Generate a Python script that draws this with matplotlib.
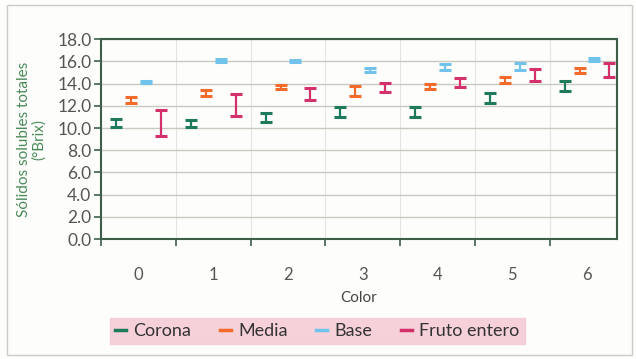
import matplotlib
matplotlib.use("Agg")
import matplotlib.pyplot as plt
import numpy as np
from matplotlib.lines import Line2D
from matplotlib.patches import Rectangle

plt.rcParams["font.family"] = ["Lato", "DejaVu Sans"]

# Sólidos solubles totales (°Brix) por grado de color y zona del fruto
colores = ["0", "1", "2", "3", "4", "5", "6"]
series = ["Corona", "Media", "Base", "Fruto entero"]

corona = [10.45, 10.40, 10.93, 11.42, 11.42, 12.68, 13.78]
corona_err = [0.40, 0.33, 0.40, 0.46, 0.46, 0.47, 0.47]
media = [12.50, 13.17, 13.70, 13.35, 13.75, 14.30, 15.17]
media_err = [0.28, 0.28, 0.15, 0.43, 0.20, 0.25, 0.23]
base = [14.15, 16.10, 16.00, 15.20, 15.48, 15.53, 16.15]
base_err = [0.12, 0.15, 0.10, 0.18, 0.28, 0.28, 0.15]
fruto = [10.45, 12.05, 13.05, 13.62, 14.06, 14.80, 15.20]
fruto_err = [1.18, 0.97, 0.53, 0.42, 0.40, 0.55, 0.65]

valores = [corona, media, base, fruto]
errores = [corona_err, media_err, base_err, fruto_err]
tonos = ["#1f7a5c", "#f26b2a", "#72c3ec", "#d3306c"]
desplaz = [-0.3, -0.1, 0.1, 0.3]

fig = plt.figure(figsize=(6.36, 3.59), dpi=100, facecolor="#fdfdfb")
ax = fig.add_axes([0.159, 0.334, 0.811, 0.557])
ax.set_facecolor("#fdfdfb")

x = np.arange(len(colores))
for vals, errs, c, d in zip(valores, errores, tonos, desplaz):
    ax.errorbar(x + d, vals, yerr=errs, fmt="none", ecolor=c,
                elinewidth=1.6, capsize=4, capthick=2.2, clip_on=False,
                zorder=3)

ax.set_xlim(-0.5, 6.4)
ax.set_ylim(0, 18)
ax.set_yticks(np.arange(0, 18.1, 2))
ax.set_yticklabels([f"{v:.1f}" for v in np.arange(0, 18.1, 2)])
ax.set_xticks(np.arange(-0.5, 6.0, 1.0))
ax.set_xticklabels([])
ax.set_xticks(x, minor=True)
ax.set_xticklabels(colores, minor=True)
ax.tick_params(axis="x", which="minor", length=0, pad=20,
               labelsize=12, labelcolor="#555555")
ax.tick_params(axis="x", which="major", length=5, color="#3d5f4a",
               width=1.2)
ax.tick_params(axis="y", length=5, color="#3d5f4a", width=1.2,
               labelsize=12.5, labelcolor="#555555", pad=2)

ax.grid(axis="y", color="#c9c9c2", linewidth=1.0)
ax.grid(axis="x", which="major", color="#e4e4e0", linewidth=0.8)
ax.set_axisbelow(True)
for sp in ax.spines.values():
    sp.set_color("#3d5f4a")
    sp.set_linewidth(1.5)

ax.set_ylabel("Sólidos solubles totales\n(°Brix)", color="#4a8a58",
              fontsize=11, labelpad=8, linespacing=1.1)
ax.set_xlabel("Color", color="#444444", fontsize=11, labelpad=6)

handles = [Line2D([0], [0], color=c, lw=2.5) for c in tonos]
leg = fig.legend(handles, series, loc="center", ncol=4,
                 bbox_to_anchor=(0.499, 0.078), frameon=True,
                 fontsize=13, handlelength=0.6, handletextpad=0.4,
                 columnspacing=1.6, borderpad=0.3, borderaxespad=0.0,
                 fancybox=False)
leg.get_frame().set_facecolor("#f5c7d1")
leg.get_frame().set_edgecolor("#f5c7d1")
for t in leg.get_texts():
    t.set_color("#333333")

# marco fino alrededor de la figura
fig.patches.append(Rectangle((0.011, 0.012), 0.983, 0.975,
                             transform=fig.transFigure, fill=False,
                             edgecolor="#c8cfc8", linewidth=1.0))

fig.savefig("out.png", dpi=100, facecolor=fig.get_facecolor())
